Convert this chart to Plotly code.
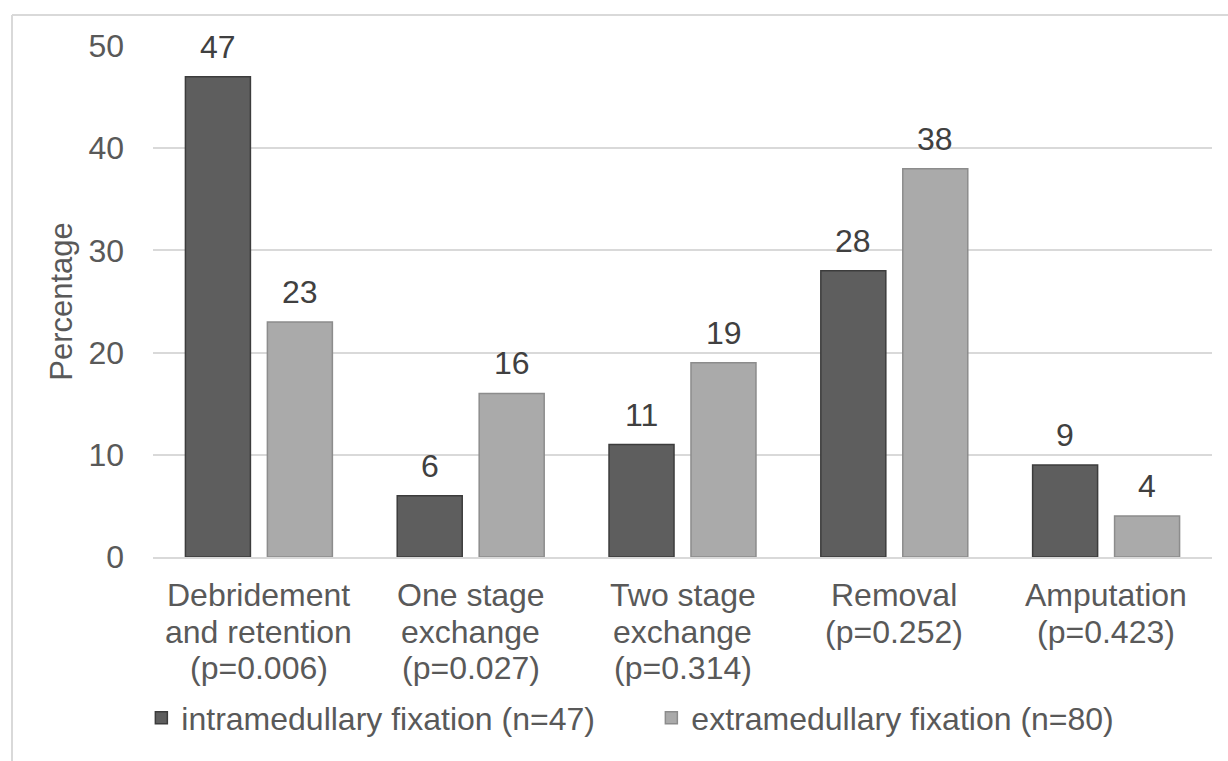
import plotly.graph_objects as go

# Treatment outcome categories with their p-values (one list per label line)
categories = ["Debridement and retention", "One stage exchange", "Two stage exchange",
              "Removal", "Amputation"]
category_lines = [
    ["Debridement", "and retention", "(p=0.006)"],
    ["One stage", "exchange", "(p=0.027)"],
    ["Two stage", "exchange", "(p=0.314)"],
    ["Removal", "(p=0.252)"],
    ["Amputation", "(p=0.423)"],
]
intramedullary = [47, 6, 11, 28, 9]
extramedullary = [23, 16, 19, 38, 4]
series_names = ["intramedullary fixation (n=47)", "extramedullary fixation (n=80)"]
y_ticks = [0, 10, 20, 30, 40, 50]

FONT = "Liberation Sans, Arial, sans-serif"
TICK_COLOR = "#595959"
LABEL_COLOR = "#404040"
W, H = 1228, 761
M_L, M_R, M_T, M_B = 153, 16, 46, 204
plot_w = W - M_L - M_R
plot_h = H - M_T - M_B

fig = go.Figure()
fig.add_trace(go.Bar(
    x=categories, y=intramedullary, name=series_names[0],
    marker=dict(color="#5e5e5e", line=dict(color="#3c3c3c", width=1.5)),
))
fig.add_trace(go.Bar(
    x=categories, y=extramedullary, name=series_names[1],
    marker=dict(color="#aaaaaa", line=dict(color="#8c8c8c", width=1.5)),
))

# value labels above each bar
group_offset = 41
for vals, shift in ((intramedullary, -group_offset), (extramedullary, group_offset)):
    for cat, v in zip(categories, vals):
        fig.add_annotation(
            x=cat, y=v, text=str(v), showarrow=False,
            xshift=shift, yshift=10, yanchor="bottom",
            font=dict(family=FONT, size=32, color=LABEL_COLOR),
        )

# category labels under the axis, with compact line spacing
for cat, lines in zip(categories, category_lines):
    for i, line in enumerate(lines):
        fig.add_annotation(
            x=cat, xref="x", y=0, yref="paper", text=line, showarrow=False,
            yanchor="middle", yshift=-(38 + i * 36.5),
            font=dict(family=FONT, size=32, color=TICK_COLOR),
        )

# outer chart frame (top and left edges)
fx0 = (12 - M_L) / plot_w
fy1 = (H - M_B - 15) / plot_h
fig.add_shape(type="line", xref="paper", yref="paper", x0=fx0, x1=1.2, y0=fy1, y1=fy1,
              line=dict(color="#d9d9d9", width=2))
fig.add_shape(type="line", xref="paper", yref="paper", x0=fx0, x1=fx0, y0=fy1, y1=-0.5,
              line=dict(color="#d9d9d9", width=2))

fig.update_layout(
    width=W, height=H,
    margin=dict(l=M_L, r=M_R, t=M_T, b=M_B),
    paper_bgcolor="white", plot_bgcolor="white",
    barmode="group", bargap=0.226, bargroupgap=0.207,
    font=dict(family=FONT, size=32, color=TICK_COLOR),
    showlegend=True,
    legend=dict(
        orientation="h", x=-0.011, xanchor="left", y=(H - M_B - 718) / plot_h, yanchor="middle",
        font=dict(family=FONT, size=32, color=TICK_COLOR),
        itemwidth=30, entrywidth=465, tracegroupgap=0, bgcolor="rgba(0,0,0,0)",
    ),
)
fig.update_xaxes(
    showgrid=False, showline=True, linecolor="#d9d9d9", linewidth=2,
    ticks="", showticklabels=False,
)
fig.update_yaxes(
    range=[0, 50], tickvals=y_ticks, showgrid=True, gridcolor="#d9d9d9", gridwidth=2,
    zeroline=False, showline=False, ticks="", ticklabelstandoff=28,
    tickfont=dict(family=FONT, size=32, color=TICK_COLOR),
    title=dict(text="Percentage", font=dict(family=FONT, size=31, color=TICK_COLOR), standoff=6),
)

fig.write_html("out.html")
